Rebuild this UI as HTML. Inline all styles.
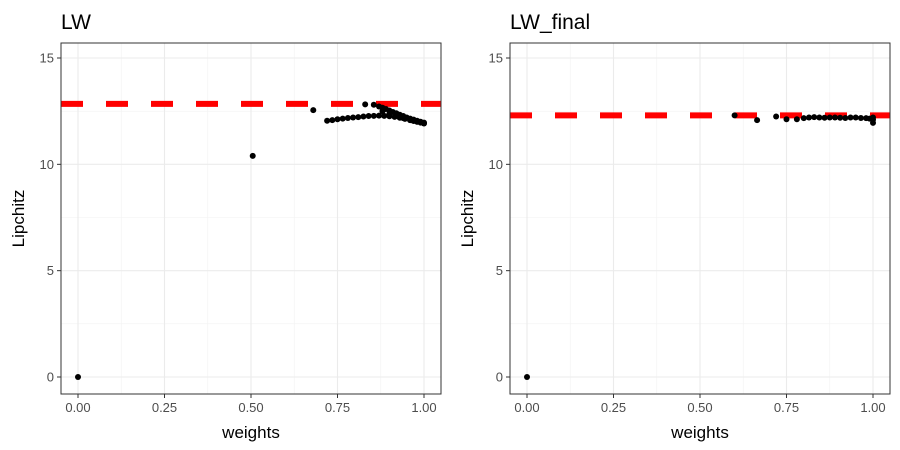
<!DOCTYPE html>
<html><head><meta charset="utf-8"><style>
body{margin:0;background:#fff;}
svg{font-family:"Liberation Sans",Arial,sans-serif;display:block}
</style></head><body>
<svg id="chart" width="900" height="450" viewBox="0 0 900 450"></svg>
<script>
const xTicks=[0,0.25,0.5,0.75,1];
const xTickLabels=["0.00","0.25","0.50","0.75","1.00"];
const yTicks=[0,5,10,15];
const yTickLabels=["0","5","10","15"];
const lwX=[0,0.505,0.68,0.83,0.855,0.72,0.735,0.75,0.765,0.78,0.795,0.81,0.825,0.84,0.855,0.87,0.885,0.9,0.915,0.93,0.945,0.96,0.97,0.98,0.99,1.0,0.87,0.88,0.89,0.9,0.91,0.92,0.93,0.94,0.95,0.96,0.97,0.98,0.99,1.0,0.88,0.9,0.92,0.94,0.96,0.98,1.0];
const lwY=[0,10.4,12.55,12.82,12.8,12.05,12.08,12.12,12.15,12.18,12.2,12.22,12.25,12.27,12.28,12.29,12.28,12.26,12.23,12.19,12.14,12.08,12.04,12.0,11.96,11.92,12.72,12.66,12.6,12.53,12.46,12.4,12.33,12.27,12.2,12.15,12.1,12.05,12.0,11.96,12.5,12.38,12.27,12.17,12.08,12.0,11.94];
const lwRef=12.84;
const lwfX=[0,0.6,0.665,0.72,0.75,0.78,0.8,0.815,0.83,0.845,0.86,0.875,0.89,0.905,0.92,0.935,0.95,0.965,0.98,0.99,1.0,1.0,1.0];
const lwfY=[0,12.3,12.08,12.25,12.12,12.12,12.17,12.2,12.22,12.2,12.19,12.2,12.2,12.19,12.18,12.2,12.2,12.18,12.17,12.15,12.1,11.95,12.2];
const lwfRef=12.3;

const svg=document.getElementById('chart');
const NS='http://www.w3.org/2000/svg';
function mk(tag,attrs,parent){const e=document.createElementNS(NS,tag);for(const k in attrs)e.setAttribute(k,attrs[k]);(parent||svg).appendChild(e);return e;}

function panel(name,title,x0,x1,X,Y,ref){
  const top=43,bot=394;
  const xs=v=>(x0+17)+v*((x1-17)-(x0+17));
  const ys=v=>377-v*(377-58)/15;
  const g=mk('g',{});
  
  
  [0.125,0.375,0.625,0.875].forEach(v=>{const l=mk('line',{x1:xs(v),x2:xs(v),y1:top,y2:bot,stroke:'#f2f2f2','stroke-width':0.6},g);});
  [2.5,7.5,12.5].forEach(v=>{const l=mk('line',{x1:x0,x2:x1,y1:ys(v),y2:ys(v),stroke:'#f2f2f2','stroke-width':0.6},g);});
  xTicks.forEach(v=>{const l=mk('line',{x1:xs(v),x2:xs(v),y1:top,y2:bot,stroke:'#ebebeb','stroke-width':1.1},g);});
  yTicks.forEach(v=>{const l=mk('line',{x1:x0,x2:x1,y1:ys(v),y2:ys(v),stroke:'#ebebeb','stroke-width':1.1},g);});
  const r=mk('line',{x1:x0,x2:x1,y1:ys(ref),y2:ys(ref),stroke:'#ff0000','stroke-width':6,'stroke-dasharray':'22 23'},g);
  
  
  X.forEach((v,i)=>{const c=mk('circle',{cx:xs(v),cy:ys(Y[i]),r:3,fill:'#000'},g);});
  const b=mk('rect',{x:x0,y:top,width:x1-x0,height:bot-top,fill:'none',stroke:'#333','stroke-width':1},g);
  
  
  xTicks.forEach((v,i)=>{mk('line',{x1:xs(v),x2:xs(v),y1:bot,y2:bot+4,stroke:'#333'},g);const t=mk('text',{x:xs(v),y:bot+18,'text-anchor':'middle','font-size':13,fill:'#4d4d4d'},g);t.textContent=xTickLabels[i];});
  yTicks.forEach((v,i)=>{mk('line',{x1:x0-4,x2:x0,y1:ys(v),y2:ys(v),stroke:'#333'},g);const t=mk('text',{x:x0-7,y:ys(v)+4.5,'text-anchor':'end','font-size':13,fill:'#4d4d4d'},g);t.textContent=yTickLabels[i];});
  const xt=mk('text',{x:(x0+x1)/2,y:438,'text-anchor':'middle','font-size':17,fill:'#000'},g);xt.textContent='weights';
  
  
  const yt=mk('text',{x:0,y:0,'text-anchor':'middle','font-size':17,fill:'#000',transform:`translate(${x0-37},${(top+bot)/2}) rotate(-90)`},g);yt.textContent='Lipchitz';
  
  
  const tt=mk('text',{x:x0,y:29,'font-size':21,fill:'#000'},g);tt.textContent=title;
  
  
}
panel('lw','LW',61,441,lwX,lwY,lwRef);
panel('lw-final','LW_final',510,890,lwfX,lwfY,lwfRef);
</script>
</body></html>
